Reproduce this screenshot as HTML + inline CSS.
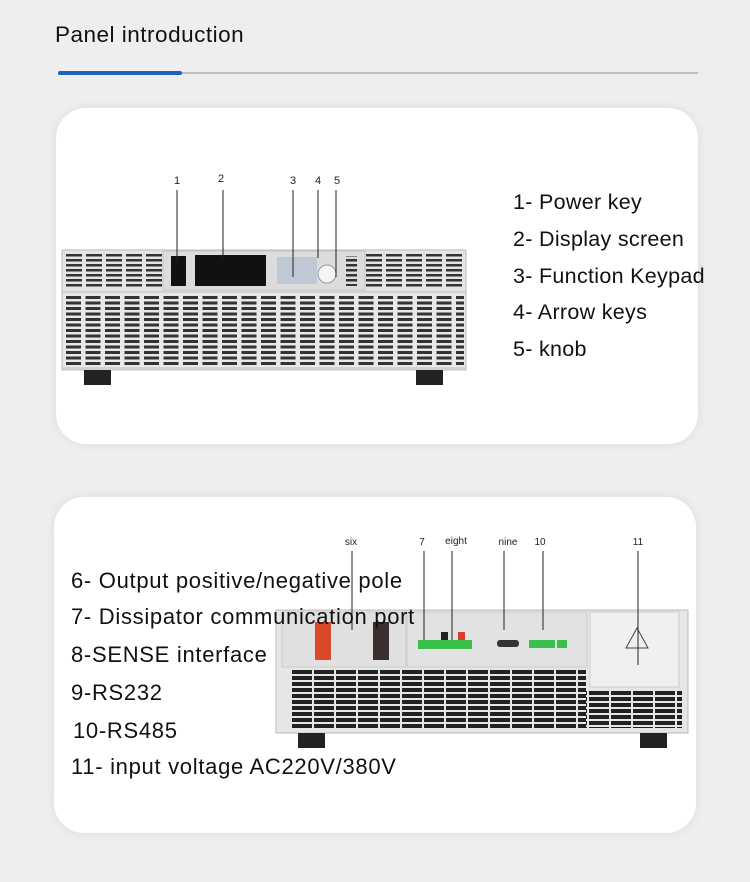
<!DOCTYPE html>
<html><head><meta charset="utf-8"><style>
html,body{margin:0;padding:0;background:#eeeeee;}
body{width:750px;height:882px;position:relative;overflow:hidden;font-family:"Liberation Sans","Noto Sans CJK SC",sans-serif;}
.card{position:absolute;background:#fff;border-radius:30px;box-shadow:0 0 10px rgba(0,0,0,0.08);}
.t{position:absolute;font-size:21.5px;letter-spacing:0.3px;color:#111;white-space:nowrap;}
.b{font-size:22px;letter-spacing:0.7px;}
</style></head><body>
<div class="t" style="left:55px;top:22px;font-size:22.5px;letter-spacing:0.5px;">Panel introduction</div>
<div style="position:absolute;left:58px;top:72px;width:640px;height:2px;background:#bdbdbd"></div>
<div style="position:absolute;left:58px;top:71px;width:124px;height:4px;background:#1e62c0;border-radius:2px"></div>
<div class="card" style="left:56px;top:108px;width:642px;height:336px"></div>
<div class="card" style="left:54px;top:497px;width:642px;height:336px"></div>

<svg width="750" height="882" style="position:absolute;left:0;top:0">
<defs>
<pattern id="v1" x="66" y="254" width="20" height="5" patternUnits="userSpaceOnUse"><rect x="0" y="0" width="16" height="2.5" fill="#333"/></pattern>
<pattern id="v2" x="66" y="296" width="19.5" height="5.5" patternUnits="userSpaceOnUse"><rect x="0" y="0" width="15" height="3" fill="#333"/></pattern>
<pattern id="v3" x="292" y="670" width="22" height="6" patternUnits="userSpaceOnUse"><rect x="0" y="0" width="20" height="4" fill="#222"/></pattern>
<pattern id="v3b" x="303" y="673" width="22" height="6" patternUnits="userSpaceOnUse"><rect x="0" y="0" width="20" height="4" fill="#222"/></pattern>
</defs>
<rect x="62" y="250" width="404" height="120" fill="#e4e4e4" stroke="#bbb"/>
<rect x="64" y="252" width="98" height="36" fill="url(#v1)"/>
<rect x="366" y="252" width="98" height="36" fill="url(#v1)"/>
<rect x="163" y="251" width="202" height="39" fill="#dcdcdc" stroke="#c4c4c4"/>
<rect x="171" y="256" width="15" height="30" fill="#111"/>
<rect x="195" y="255" width="71" height="31" fill="#111"/>
<g fill="#b8c4d4"><rect x="277" y="257" width="40" height="27" opacity="0.8"/></g>
<circle cx="327" cy="274" r="9" fill="#f4f4f4" stroke="#999"/>
<rect x="343" y="256" width="14" height="30" fill="url(#v1)"/>
<rect x="62" y="292" width="404" height="76" fill="#e8e8e8" stroke="#bbb"/>
<rect x="66" y="296" width="398" height="70" fill="url(#v2)"/>
<rect x="84" y="370" width="27" height="15" fill="#222"/>
<rect x="416" y="370" width="27" height="15" fill="#222"/>
<g font-size="11" fill="#222" font-family="Liberation Sans" text-anchor="middle">
<text x="177" y="184">1</text><text x="221" y="182">2</text><text x="293" y="184">3</text><text x="318" y="184">4</text><text x="337" y="184">5</text>
</g>
<g stroke="#222" stroke-width="1">
<line x1="177" y1="190" x2="177" y2="262"/><line x1="223" y1="190" x2="223" y2="258"/><line x1="293" y1="190" x2="293" y2="277"/><line x1="318" y1="190" x2="318" y2="258"/><line x1="336" y1="190" x2="336" y2="277"/>
</g>
<rect x="276" y="610" width="412" height="123" fill="#e6e6e6" stroke="#bbb"/>
<rect x="282" y="612" width="124" height="55" fill="#e0e0e0" stroke="#ccc"/>
<rect x="315" y="622" width="16" height="38" fill="#d84a2a"/>
<rect x="373" y="622" width="16" height="38" fill="#3a2e2e"/>
<rect x="407" y="612" width="180" height="55" fill="#e2e2e2" stroke="#ccc"/>
<rect x="418" y="640" width="16" height="9" fill="#3ac04a"/>
<rect x="434" y="640" width="38" height="9" fill="#3ac04a"/>
<rect x="441" y="632" width="7" height="8" fill="#222"/><rect x="458" y="632" width="7" height="8" fill="#e03a2a"/>
<rect x="497" y="640" width="22" height="7" rx="3" fill="#333"/>
<rect x="529" y="640" width="26" height="8" fill="#3ac04a"/><rect x="557" y="640" width="10" height="8" fill="#3ac04a"/>
<rect x="590" y="612" width="89" height="75" fill="#f0f0f0" stroke="#ccc"/>
<path d="M637 628 L626 648 L648 648 Z" fill="none" stroke="#444"/>
<rect x="292" y="670" width="294" height="58" fill="url(#v3)"/>
<rect x="586" y="690" width="96" height="38" fill="url(#v3b)"/>
<rect x="298" y="733" width="27" height="15" fill="#222"/>
<rect x="640" y="733" width="27" height="15" fill="#222"/>
<g font-size="10" fill="#222" font-family="Liberation Sans" text-anchor="middle">
<text x="351" y="545">six</text><text x="422" y="545">7</text><text x="456" y="544">eight</text><text x="508" y="545">nine</text><text x="540" y="545">10</text><text x="638" y="545">11</text>
</g>
<g stroke="#222" stroke-width="1">
<line x1="352" y1="551" x2="352" y2="630"/><line x1="424" y1="551" x2="424" y2="640"/><line x1="452" y1="551" x2="452" y2="640"/><line x1="504" y1="551" x2="504" y2="630"/><line x1="543" y1="551" x2="543" y2="630"/><line x1="638" y1="551" x2="638" y2="665"/>
</g>
</svg>

<div class="t" style="left:513px;top:190px">1- Power key</div>
<div class="t" style="left:513px;top:227px">2- Display screen</div>
<div class="t" style="left:513px;top:264px">3- Function Keypad</div>
<div class="t" style="left:513px;top:300px">4- Arrow keys</div>
<div class="t" style="left:513px;top:337px">5- knob</div>

<div class="t b" style="left:71px;top:568px">6- Output positive/negative pole</div>
<div class="t b" style="left:71px;top:604px">7- Dissipator communication port</div>
<div class="t b" style="left:71px;top:642px">8-SENSE interface</div>
<div class="t b" style="left:71px;top:680px">9-RS232</div>
<div class="t b" style="left:73px;top:718px">10-RS485</div>
<div class="t b" style="left:71px;top:754px">11- input voltage AC220V/380V</div>
</body></html>
